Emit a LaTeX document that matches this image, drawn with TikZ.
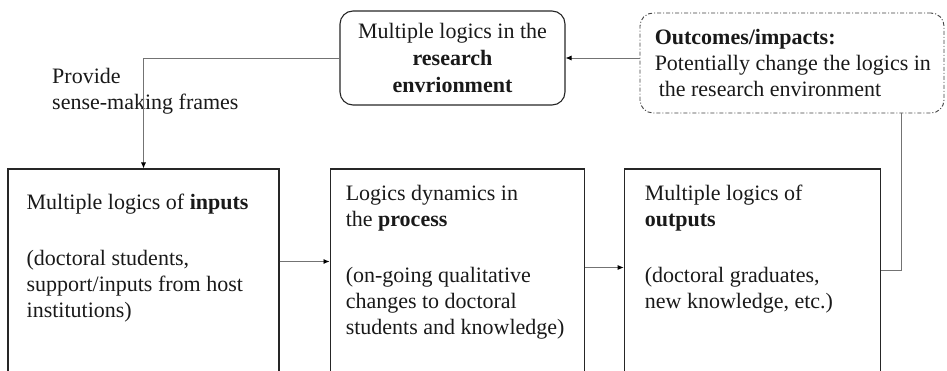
\documentclass[tikz,border=0pt]{standalone}
\usepackage{fontspec}
\setmainfont{Liberation Serif}
\usetikzlibrary{positioning, arrows.meta}

\begin{document}
\begin{tikzpicture}[
    x=1pt, y=1pt,
    box/.style={draw=black!85, line width=1.1pt, minimum width=#1, minimum height=203pt, inner sep=0pt},
    envbox/.style={draw=black!85, line width=1.1pt, rounded corners=13pt, minimum width=225pt, minimum height=94pt, align=center, font=\fontsize{22pt}{27pt}\selectfont, text=black!90},
    impactbox/.style={draw=black!75, line width=0.9pt, dash pattern=on 4pt off 2pt on 1pt off 2pt, rounded corners=13pt, minimum width=304pt, minimum height=100pt},
    txt/.style={align=left, inner sep=0pt, anchor=north west, font=\fontsize{22pt}{26pt}\selectfont, text=black!90},
    arrow/.style={-{Latex[length=6pt, width=5pt, color=black]}, line width=0.8pt, draw=black!55},
    link/.style={line width=0.8pt, draw=black!55}
]
    \useasboundingbox (0,0) rectangle (947,370);

    % Research environment and outcomes (top row)
    \node[envbox] (envir) at (452.5,312) {Multiple logics in the\\\textbf{research}\\\textbf{envrionment}};
    \node[impactbox] (outcome) at (792,307) {};
    \node[txt] (outcomeT) at ([xshift=15pt, yshift=-16pt]outcome.north west) {\textbf{Outcomes/impacts:}\\Potentially change the logics in\\\hspace{4pt}the research environment};

    % Inputs, process, outputs (bottom row)
    \node[box=271pt] (inputs) at (143.5,99.5) {};
    \node[box=254pt, right=50pt of inputs] (process) {};
    \node[box=256pt, right=39pt of process] (outputs) {};

    \node[txt] (inputsT) at ([xshift=19pt, yshift=-25pt]inputs.north west) {Multiple logics of \textbf{inputs}\\[30pt](doctoral students,\\support/inputs from host\\institutions)};
    \node[txt] (processT) at ([xshift=16pt, yshift=-17pt]process.north west) {Logics dynamics in\\the \textbf{process}\\[30pt](on-going qualitative\\changes to doctoral\\students and knowledge)};
    \node[txt] (outputsT) at ([xshift=21pt, yshift=-16pt]outputs.north west) {Multiple logics of\\\textbf{outputs}\\[30pt](doctoral graduates,\\new knowledge, etc.)};

    % Label on the sense-making link
    \node[txt, anchor=west] (frames) at (52,278.5) {Provide\\sense-making frames};

    % Connectors
    \draw[arrow] (envir.west) -| (inputs.north);
    \draw[arrow] ([yshift=9pt]inputs.east) -- ([yshift=9pt]process.west);
    \draw[arrow] ([yshift=3pt]process.east) -- ([yshift=3pt]outputs.west);
    \draw[link] (outputs.east) -| ([xshift=109pt]outcome.south);
    \draw[arrow] (envir.east -| outcome.west) -- (envir.east);

\end{tikzpicture}
\end{document}
